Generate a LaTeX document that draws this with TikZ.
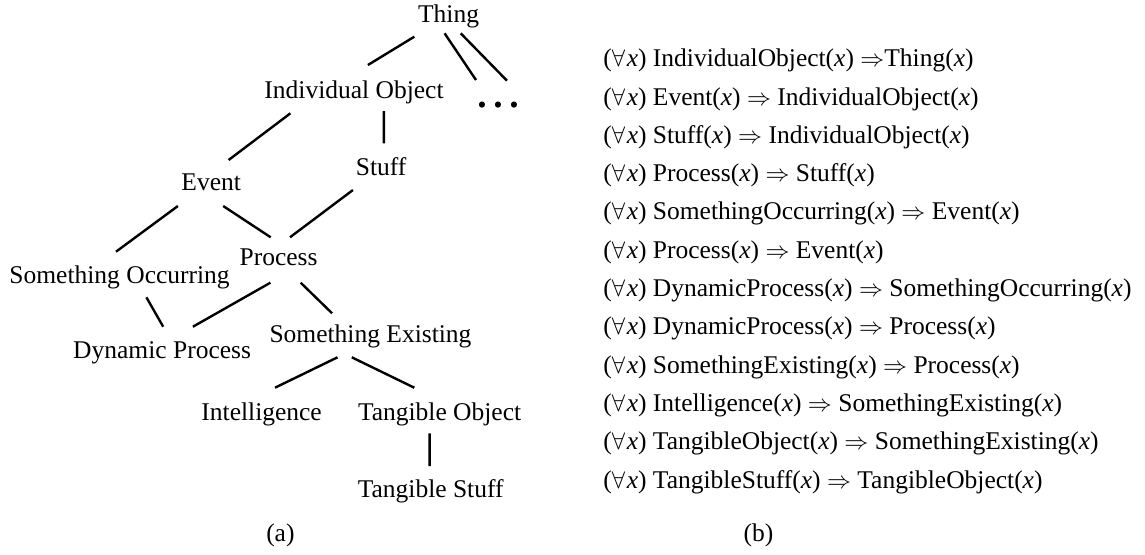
\documentclass[tikz,border=0pt]{standalone}
\usepackage{fontspec}
\setmainfont{Liberation Serif}
\newcommand\myfa{(\ensuremath{\forall}\kern0.06em\textit{x})}
\newcommand\myx{(\textit{x})}
\newcommand\myimp{\ensuremath{\Rightarrow}}
\tikzset{
  lbl/.style={anchor=base, inner sep=0pt, font=\fontsize{12.75}{15}\selectfont},
  ax/.style={anchor=base west, inner sep=0pt, font=\fontsize{12.75}{15}\selectfont},
  edge/.style={line width=1.2pt},
}
\begin{document}
\begin{tikzpicture}[x=0.5pt,y=-0.5pt]
\useasboundingbox (0,0) rectangle (1145,554);
% tree nodes
\node[lbl] (thing) at (448.6,22.3) {Thing};
\node[lbl] (io) at (354,98.3) {Individual Object};
\node[lbl] (dots) at (498,113.5) {\textbullet\hspace{3.55pt}\textbullet\hspace{3.55pt}\textbullet};
\node[lbl] (event) at (211.2,190.7) {Event};
\node[lbl] (stuff) at (381.2,175) {Stuff};
\node[lbl] (process) at (278.6,265) {Process};
\node[lbl] (so) at (119.6,283.3) {Something Occurring};
\node[lbl] (dp) at (162.1,358.3) {Dynamic Process};
\node[lbl] (se) at (370.5,342.7) {Something Existing};
\node[lbl] (int) at (261.6,420) {Intelligence};
\node[lbl] (to) at (439.6,420) {Tangible Object};
\node[lbl] (ts) at (430.7,497.7) {Tangible Stuff};
\node[lbl] (capa) at (280.4,541) {(a)};
\node[lbl] (capb) at (758.5,541) {(b)};
% connectors
\draw[edge] ([shift={(-34.3,14.4)}]thing.base) -- ([shift={(13.9,-33.3)}]io.base);
\draw[edge] ([shift={(-4,11)}]thing.base) -- ([shift={(-22,-33.5)}]dots.base);
\draw[edge] ([shift={(12.1,11)}]thing.base) -- ([shift={(9,-32.8)}]dots.base);
\draw[edge] ([shift={(-63.6,15)}]io.base) -- ([shift={(17.4,-30.7)}]event.base);
\draw[edge] ([shift={(29.9,12.7)}]io.base) -- ([shift={(2.7,-31.7)}]stuff.base);
\draw[edge] ([shift={(-33.3,15.3)}]event.base) -- ([shift={(-3.6,-31.6)}]so.base);
\draw[edge] ([shift={(12,15.3)}]event.base) -- ([shift={(-7.9,-27.7)}]process.base);
\draw[edge] ([shift={(-28.3,15)}]stuff.base) -- ([shift={(11.4,-27.7)}]process.base);
\draw[edge] ([shift={(26.8,14)}]so.base) -- ([shift={(1.1,-31.6)}]dp.base);
\draw[edge] ([shift={(-8.2,17.7)}]process.base) -- ([shift={(30.8,-31.6)}]dp.base);
\draw[edge] ([shift={(22.1,17.7)}]process.base) -- ([shift={(-38.4,-29.4)}]se.base);
\draw[edge] ([shift={(-33,14.6)}]se.base) -- ([shift={(13.4,-32.3)}]int.base);
\draw[edge] ([shift={(-18.7,14.6)}]se.base) -- ([shift={(-25.3,-32.3)}]to.base);
\draw[edge] ([shift={(-10,13.3)}]to.base) -- ([shift={(-1.1,-31.7)}]ts.base);
% axioms
\node[ax] (r1) at (603,66.7) {\myfa{} IndividualObject\myx{} \myimp Thing\myx};
\node[ax] (r2) at (603,105.0) {\myfa{} Event\myx{} \myimp{} IndividualObject\myx};
\node[ax] (r3) at (603,143.3) {\myfa{} Stuff\myx{} \myimp{} IndividualObject\myx};
\node[ax] (r4) at (603,181.6) {\myfa{} Process\myx{} \myimp{} Stuff\myx};
\node[ax] (r5) at (603,219.9) {\myfa{} SomethingOccurring\myx{} \myimp{} Event\myx};
\node[ax] (r6) at (603,258.2) {\myfa{} Process\myx{} \myimp{} Event\myx};
\node[ax] (r7) at (603,296.5) {\myfa{} DynamicProcess\myx{} \myimp{} SomethingOccurring\myx};
\node[ax] (r8) at (603,334.8) {\myfa{} DynamicProcess\myx{} \myimp{} Process\myx};
\node[ax] (r9) at (603,373.1) {\myfa{} SomethingExisting\myx{} \myimp{} Process\myx};
\node[ax] (r10) at (603,411.4) {\myfa{} Intelligence\myx{} \myimp{} SomethingExisting\myx};
\node[ax] (r11) at (603,449.7) {\myfa{} TangibleObject\myx{} \myimp{} SomethingExisting\myx};
\node[ax] (r12) at (603,488.0) {\myfa{} TangibleStuff\myx{} \myimp{} TangibleObject\myx};
\end{tikzpicture}
\end{document}
